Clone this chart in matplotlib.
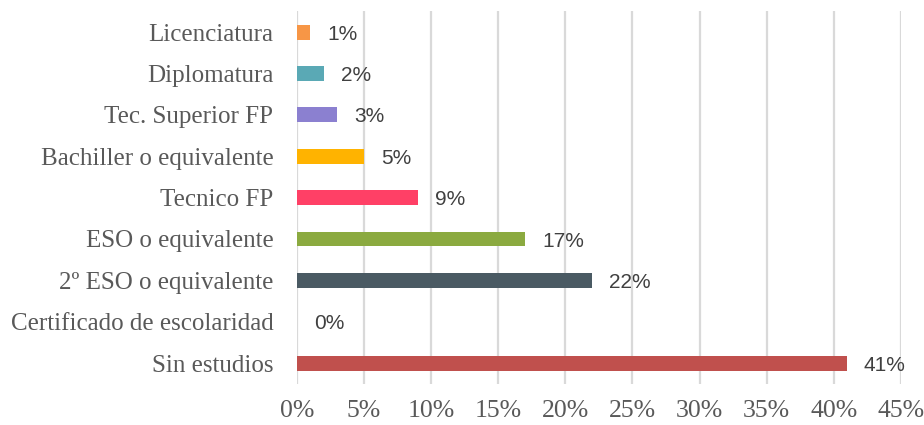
import matplotlib
matplotlib.use("Agg")
import matplotlib.pyplot as plt
from matplotlib.ticker import MultipleLocator, FuncFormatter

categories = ["Sin estudios", "Certificado de escolaridad", "2º ESO o equivalente",
              "ESO o equivalente", "Tecnico FP", "Bachiller o equivalente",
              "Tec. Superior FP", "Diplomatura", "Licenciatura"]
values = [41, 0, 22, 17, 9, 5, 3, 2, 1]
colors = ["#C0504D", "#808080", "#4A5A63", "#8BAA40", "#FF4066", "#FFB300",
          "#8B80D0", "#5AA9B5", "#F79646"]

fig = plt.figure(figsize=(9.24, 4.25), dpi=100)
ax = fig.add_axes([0.3214, 0.097, 0.6536, 0.876])

y = list(range(len(categories)))
ax.barh(y, values, height=0.36, color=colors, zorder=3)
for yi, v in zip(y, values):
    ax.text(v + 1.25, yi - 0.05, f"{v}%", va="center", ha="left",
            fontsize=15, color="#404040", family="Liberation Sans", zorder=4)

ax.set_xlim(0, 45)
ax.set_ylim(-0.5, len(categories) - 0.5)
ax.xaxis.set_major_locator(MultipleLocator(5))
ax.xaxis.set_major_formatter(FuncFormatter(lambda x, p: f"{int(round(x))}%"))
ax.set_yticks(y)
ax.set_yticklabels(categories)
ax.grid(axis="x", color="#D9D9D9", linewidth=1.6, zorder=0)
for s in ax.spines.values():
    s.set_visible(False)
ax.tick_params(axis="both", length=0, colors="#595959")
ax.tick_params(axis="y", pad=17)
ax.tick_params(axis="x", pad=12)
for lab in ax.get_yticklabels():
    lab.set_family("Liberation Serif")
    lab.set_fontsize(18)
    lab.set_color("#595959")
for lab in ax.get_xticklabels():
    lab.set_family("Liberation Serif")
    lab.set_fontsize(18.5)
    lab.set_color("#595959")

fig.savefig("out.png", dpi=100)
